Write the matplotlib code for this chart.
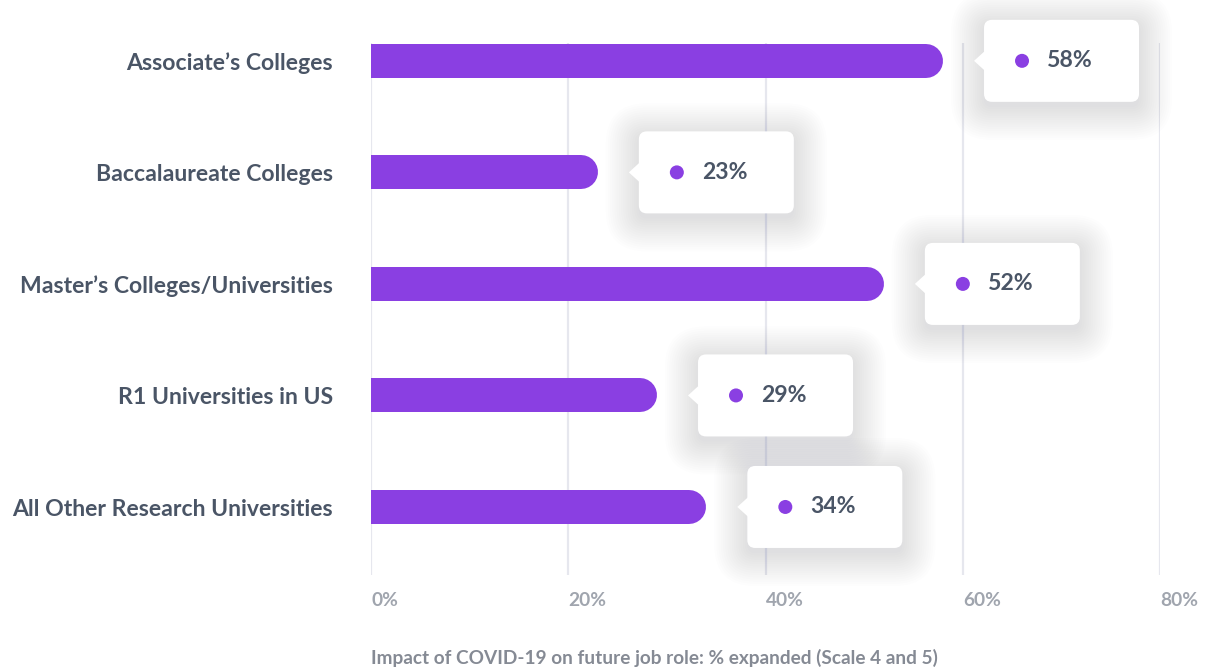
import numpy as np
import matplotlib
matplotlib.use('Agg')
import matplotlib.pyplot as plt
from matplotlib.patches import FancyBboxPatch, Polygon, Circle
from matplotlib.transforms import Affine2D, ScaledTranslation

# data
categories = ['Associate\u2019s Colleges', 'Baccalaureate Colleges',
              'Master\u2019s Colleges/Universities', 'R1 Universities in US',
              'All Other Research Universities']
values = [58, 23, 52, 29, 34]
ticks = [0, 20, 40, 60, 80]
tick_labels = ['0%', '20%', '40%', '60%', '80%']
xlabel = 'Impact of COVID-19 on future job role: % expanded (Scale 4 and 5)'

purple = '#8a3fe2'
text_dark = '#4a5566'
text_gray = '#a0a5ae'
grid_c = '#e6e7ee'

plt.rcParams['font.family'] = ['Lato', 'DejaVu Sans']

fig = plt.figure(figsize=(12.05, 6.68), dpi=100)
ax = fig.add_axes([371 / 1205, 1 - 575 / 668, (1160 - 371) / 1205, (575 - 43) / 668])
ax.set_xlim(0, 80)
ax.set_ylim(4.61, -0.16)
for s in ax.spines.values():
    s.set_visible(False)
ax.set_yticks([])
ax.set_xticks([])

# grid
for t in ticks:
    ax.axvline(t, color=grid_c, lw=1.6, zorder=0)

px_per_unit = (1160 - 371) / 80
bar_px = 34
cap = bar_px / 2 / px_per_unit

for i, (c, v) in enumerate(zip(categories, values)):
    ax.plot([-5, v - cap], [i, i], color=purple, lw=bar_px * 0.72,
            solid_capstyle='round', zorder=2)
    ax.text(-38 / px_per_unit, i + 0.02, c, ha='right', va='center', fontsize=16.6,
            fontweight='bold', color=text_dark, clip_on=False)

# tooltips
W, H = 155, 82
for i, v in enumerate(values):
    tr = ScaledTranslation(v, i, ax.transData)
    base = Affine2D() + tr
    x0 = 41
    # soft shadow (light grey layers so each one stays faint)
    for k in range(16):
        g = k * 2.2
        sh = FancyBboxPatch((x0 - g, -H / 2 - g - 5), W + 2 * g, H + 2 * g,
                            boxstyle='round,pad=0,rounding_size=%f' % (8 + g),
                            transform=base, facecolor='#9a9db0', edgecolor='none',
                            alpha=0.02, zorder=3, clip_on=False)
        fig.add_artist(sh)
    box = FancyBboxPatch((x0, -H / 2), W, H, boxstyle='round,pad=0,rounding_size=8',
                         transform=base, facecolor='white', edgecolor='none',
                         zorder=4, clip_on=False)
    fig.add_artist(box)
    tri = Polygon([[x0 + 1, -10], [x0 - 10, 0], [x0 + 1, 10]], closed=True,
                  transform=base, facecolor='white', edgecolor='none', zorder=4,
                  clip_on=False)
    fig.add_artist(tri)
    dot = Circle((x0 + 38, 0), 7, transform=base, facecolor=purple,
                 edgecolor='none', zorder=5, clip_on=False)
    fig.add_artist(dot)
    fig.text(x0 + 63, 0, '%d%%' % v, transform=base, ha='left', va='center',
             fontsize=16.6, fontweight='bold', color=text_dark, zorder=6)

# tick labels
for t, lab in zip(ticks, tick_labels):
    ax.text(t, 4.61 + 25 / 111.5, lab, ha='left', va='center', fontsize=13.8,
            fontweight='bold', color=text_gray, clip_on=False)

fig.text(371 / 1205, 1 - 658 / 668, xlabel, ha='left', va='center', fontsize=13.65,
         fontweight='bold', color='#858a94')

fig.savefig('out.png', dpi=100)
